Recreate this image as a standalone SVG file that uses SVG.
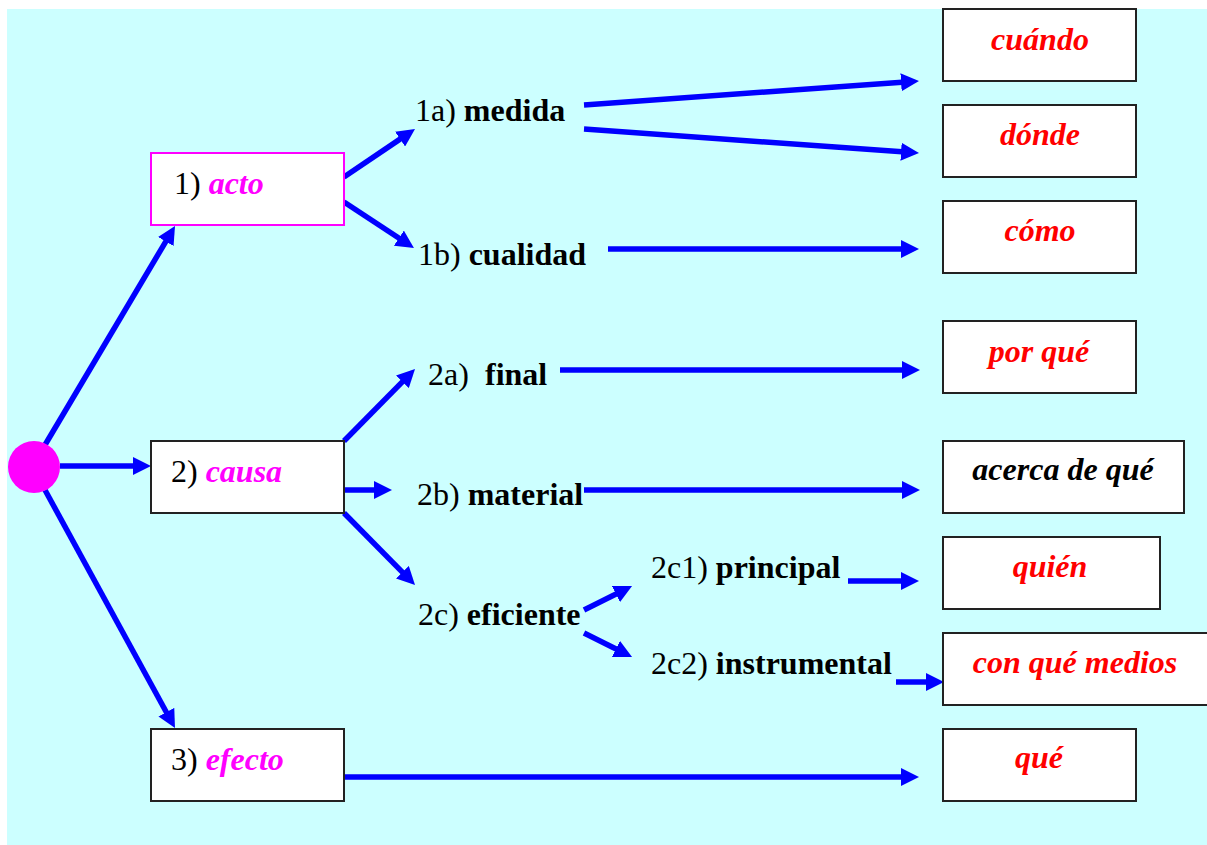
<svg xmlns="http://www.w3.org/2000/svg" width="1207" height="845" viewBox="0 0 1207 845">
<defs>
<marker id="ah" markerUnits="userSpaceOnUse" markerWidth="18" markerHeight="18" refX="8" refY="9" orient="auto">
<path d="M0,0 L18,9 L0,18 Z" fill="#0000FF"/>
</marker>
<style>
text{font-family:"Liberation Serif","Times New Roman",serif;font-size:32px;fill:#000}
.b{font-weight:bold}
.bi{font-weight:bold;font-style:italic}
.m{fill:#FF00FF}
.r{fill:#FF0000}
.box{fill:#FFFFFF;stroke:#222;stroke-width:2}
.pbox{fill:#FFFFFF;stroke:#FF00FF;stroke-width:2}
.c line{stroke:#0000FF;stroke-width:5.5;marker-end:url(#ah)}
</style>
</defs>
<rect x="0" y="0" width="1207" height="845" fill="#FFFFFF"/>
<rect x="7" y="9" width="1200" height="836" fill="#CCFFFF"/>
<g class="c" id="connectors">
<line x1="42" y1="450" x2="169.9" y2="234.6"/>
<line x1="60" y1="466" x2="141" y2="466"/>
<line x1="45" y1="490" x2="170.2" y2="719.2"/>
<line x1="344" y1="177" x2="406.7" y2="134.6"/>
<line x1="344" y1="202" x2="405.6" y2="242.5"/>
<line x1="584" y1="105" x2="909" y2="81.7"/>
<line x1="584" y1="129" x2="909" y2="152.3"/>
<line x1="608" y1="249" x2="909" y2="249"/>
<line x1="344" y1="441" x2="408" y2="376.1"/>
<line x1="344" y1="490" x2="382" y2="490"/>
<line x1="344" y1="513" x2="408" y2="577.9"/>
<line x1="560" y1="370" x2="910" y2="370"/>
<line x1="584" y1="490" x2="910" y2="490"/>
<line x1="584" y1="610" x2="623.1" y2="590.5"/>
<line x1="584" y1="633" x2="623.1" y2="652.5"/>
<line x1="848" y1="581" x2="909" y2="581"/>
<line x1="896" y1="682" x2="934" y2="682"/>
<line x1="344" y1="777" x2="909" y2="777"/>
</g>
<g id="root"><circle cx="34" cy="467" r="26" fill="#FF00FF"/></g>
<g id="acto"><rect class="pbox" x="151" y="153" width="193" height="72"/><text x="174" y="194">1) <tspan class="bi m">acto</tspan></text></g>
<g id="causa"><rect class="box" x="151" y="441" width="193" height="72"/><text x="171" y="482">2) <tspan class="bi m">causa</tspan></text></g>
<g id="efecto"><rect class="box" x="151" y="729" width="193" height="72"/><text x="171" y="770">3) <tspan class="bi m">efecto</tspan></text></g>
<g id="medida"><text x="415" y="121">1a) <tspan class="b">medida</tspan></text></g>
<g id="cualidad"><text x="418" y="265">1b) <tspan class="b">cualidad</tspan></text></g>
<g id="final"><text x="428" y="385">2a)<tspan class="b" x="485">final</tspan></text></g>
<g id="material"><text x="417" y="505">2b) <tspan class="b">material</tspan></text></g>
<g id="eficiente"><text x="418" y="625">2c) <tspan class="b">eficiente</tspan></text></g>
<g id="principal"><text x="651" y="578">2c1) <tspan class="b">principal</tspan></text></g>
<g id="instrumental"><text x="651" y="674">2c2) <tspan class="b">instrumental</tspan></text></g>
<g id="cuando"><rect class="box" x="943" y="9" width="193" height="72"/><text class="bi r" x="1040" y="50" text-anchor="middle">cuándo</text></g>
<g id="donde"><rect class="box" x="943" y="105" width="193" height="72"/><text class="bi r" x="1040" y="145" text-anchor="middle">dónde</text></g>
<g id="como"><rect class="box" x="943" y="201" width="193" height="72"/><text class="bi r" x="1040" y="241" text-anchor="middle">cómo</text></g>
<g id="porque"><rect class="box" x="943" y="321" width="193" height="72"/><text class="bi r" x="1039" y="362" text-anchor="middle">por qué</text></g>
<g id="acerca"><rect class="box" x="943" y="441" width="241" height="72"/><text class="bi" x="1063" y="480" text-anchor="middle">acerca de qué</text></g>
<g id="quien"><rect class="box" x="943" y="537" width="217" height="72"/><text class="bi r" x="1050" y="577" text-anchor="middle">quién</text></g>
<g id="conque"><rect class="box" x="943" y="633" width="270" height="72"/><text class="bi r" x="1075" y="673" text-anchor="middle">con qué medios</text></g>
<g id="que"><rect class="box" x="943" y="729" width="193" height="72"/><text class="bi r" x="1039" y="768" text-anchor="middle">qué</text></g>
</svg>
